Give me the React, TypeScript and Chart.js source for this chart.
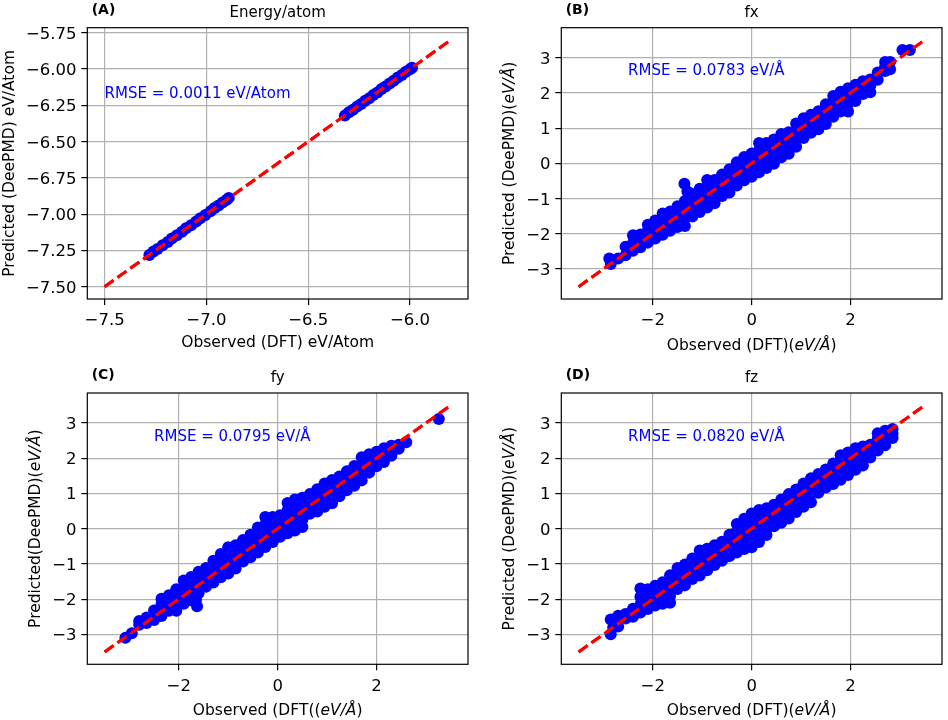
import React, { useEffect, useRef } from "react";
import { Chart, registerables } from "chart.js";

Chart.register(...registerables);

const FONT = '"DejaVu Sans", "Noto Sans", sans-serif';

// ---------- Panel A: energy per atom ----------
const energyXTicks = [-7.5, -7.0, -6.5, -6.0];
const energyXLabels = ["\u22127.5", "\u22127.0", "\u22126.5", "\u22126.0"];
const energyYTicks = [-7.5, -7.25, -7.0, -6.75, -6.5, -6.25, -6.0, -5.75];
const energyYLabels = ["\u22127.50", "\u22127.25", "\u22127.00", "\u22126.75", "\u22126.50", "\u22126.25", "\u22126.00", "\u22125.75"];
const energyRange = [-7.585, -5.715];
const energyDiagonal = [-7.5, -5.8];
const energyPoints: [number, number][] = [
  [-7.28, -7.282], [-7.26, -7.258], [-7.24, -7.241], [-7.215, -7.214], [-7.19, -7.192],
  [-7.17, -7.168], [-7.145, -7.146], [-7.12, -7.121], [-7.1, -7.098], [-7.075, -7.077],
  [-7.05, -7.051], [-7.03, -7.028], [-7.005, -7.006], [-6.98, -6.981], [-6.96, -6.958],
  [-6.94, -6.941], [-6.92, -6.919], [-6.9, -6.901], [-6.89, -6.888],
  [-6.32, -6.321], [-6.3, -6.298], [-6.28, -6.281], [-6.26, -6.259], [-6.24, -6.241],
  [-6.22, -6.218], [-6.2, -6.201], [-6.18, -6.179], [-6.16, -6.161], [-6.14, -6.138],
  [-6.12, -6.121], [-6.1, -6.099], [-6.08, -6.081], [-6.06, -6.058], [-6.04, -6.041],
  [-6.02, -6.019], [-6.0, -6.001], [-5.99, -5.991],
];
const energyRmse = "RMSE = 0.0011 eV/Atom";
const energyRmseAt = [-7.5, -6.2];

// ---------- Force panels ----------
const forceXTicks = [-2, 0, 2];
const forceXLabels = ["\u22122", "0", "2"];
const forceYTicks = [-3, -2, -1, 0, 1, 2, 3];
const forceYLabels = ["\u22123", "\u22122", "\u22121", "0", "1", "2", "3"];
const forceRange = [-3.85, 3.85];
const forceDiagonal = [-3.5, 3.5];
const forceRmseAt = [-2.5, 2.5];

const fxPoints: [number, number][] = [
  [-2.88, -2.7], [-2.85, -2.86], [-2.7, -2.7],
  [-2.55, -2.37], [-2.55, -2.61],
  [-2.4, -2.04], [-2.4, -2.26], [-2.4, -2.48],
  [-2.25, -2.02], [-2.25, -2.2], [-2.25, -2.38],
  [-2.1, -1.74], [-2.1, -1.91], [-2.1, -2.08], [-2.1, -2.25],
  [-1.95, -1.62], [-1.95, -1.79], [-1.95, -1.96], [-1.95, -2.13],
  [-1.8, -1.42], [-1.8, -1.62], [-1.8, -1.83], [-1.8, -2.03],
  [-1.65, -1.37], [-1.65, -1.55], [-1.65, -1.73], [-1.65, -1.91],
  [-1.5, -1.22], [-1.5, -1.42], [-1.5, -1.61], [-1.5, -1.81],
  [-1.35, -1.07], [-1.35, -1.31], [-1.35, -1.54], [-1.35, -1.78],
  [-1.36, -0.58], [-1.3, -0.8],
  [-1.2, -0.87], [-1.2, -1.08], [-1.2, -1.3], [-1.2, -1.51],
  [-1.05, -0.72], [-1.05, -0.94], [-1.05, -1.16], [-1.05, -1.38],
  [-0.9, -0.47], [-0.9, -0.67], [-0.9, -0.86], [-0.9, -1.06], [-0.9, -1.25],
  [-0.75, -0.47], [-0.75, -0.69], [-0.75, -0.91], [-0.75, -1.13],
  [-0.6, -0.32], [-0.6, -0.52], [-0.6, -0.73], [-0.6, -0.93],
  [-0.45, -0.17], [-0.45, -0.39], [-0.45, -0.61], [-0.45, -0.83],
  [-0.3, 0.03], [-0.3, -0.19], [-0.3, -0.41], [-0.3, -0.63],
  [-0.15, 0.18], [-0.15, -0.04], [-0.15, -0.26], [-0.15, -0.48],
  [0.0, 0.28], [0.0, 0.06], [0.0, -0.16], [0.0, -0.38],
  [0.15, 0.58], [0.15, 0.37], [0.15, 0.17], [0.15, -0.04], [0.15, -0.25],
  [0.3, 0.58], [0.3, 0.34], [0.3, 0.11], [0.3, -0.13],
  [0.45, 0.68], [0.45, 0.45], [0.45, 0.22], [0.45, -0.01],
  [0.6, 0.83], [0.6, 0.61], [0.6, 0.39], [0.6, 0.17],
  [0.75, 0.88], [0.75, 0.68], [0.75, 0.47], [0.75, 0.27],
  [0.9, 1.13], [0.9, 0.91], [0.9, 0.69], [0.9, 0.47],
  [1.05, 1.28], [1.05, 1.09], [1.05, 0.91], [1.05, 0.72],
  [1.2, 1.38], [1.2, 1.21], [1.2, 1.04], [1.2, 0.87],
  [1.35, 1.48], [1.35, 1.31], [1.35, 1.14], [1.35, 0.97],
  [1.5, 1.68], [1.5, 1.49], [1.5, 1.31], [1.5, 1.12],
  [1.65, 1.91], [1.65, 1.71], [1.65, 1.52], [1.65, 1.32],
  [1.8, 2.03], [1.8, 1.84], [1.8, 1.66], [1.8, 1.47],
  [1.95, 2.13], [1.95, 1.91], [1.95, 1.69], [1.95, 1.47],
  [2.1, 2.23], [2.1, 2.0], [2.1, 1.77],
  [2.25, 2.33], [2.25, 2.15], [2.25, 1.97],
  [2.4, 2.38], [2.4, 2.2], [2.4, 2.02],
  [2.55, 2.58], [2.55, 2.37],
  [2.7, 2.88], [2.7, 2.75], [2.7, 2.62],
  [2.8, 2.88], [2.8, 2.67],
  [3.05, 3.22], [3.2, 3.22],
];
const fxRmse = "RMSE = 0.0783 eV/\u00C5";

const fyPoints: [number, number][] = [
  [-3.08, -3.1], [-2.95, -2.97],
  [-2.8, -2.62], [-2.8, -2.73],
  [-2.65, -2.52], [-2.65, -2.68],
  [-2.5, -2.32], [-2.5, -2.45], [-2.5, -2.59],
  [-2.35, -1.99], [-2.35, -2.15], [-2.35, -2.32], [-2.35, -2.48],
  [-2.2, -1.89], [-2.2, -2.11], [-2.2, -2.33],
  [-2.05, -1.72], [-2.05, -1.92], [-2.05, -2.13], [-2.05, -2.33],
  [-1.9, -1.47], [-1.9, -1.69], [-1.9, -1.91], [-1.9, -2.13],
  [-1.75, -1.37], [-1.75, -1.59], [-1.75, -1.81], [-1.75, -2.03],
  [-1.6, -1.22], [-1.6, -1.42], [-1.6, -1.63], [-1.6, -1.83], [-1.65, -2.02], [-1.63, -2.2],
  [-1.45, -1.12], [-1.45, -1.3], [-1.45, -1.47], [-1.45, -1.65],
  [-1.3, -0.91], [-1.3, -1.12], [-1.3, -1.32], [-1.3, -1.53],
  [-1.15, -0.72], [-1.15, -0.94], [-1.15, -1.16], [-1.15, -1.38],
  [-1.0, -0.53], [-1.0, -0.72], [-1.0, -0.9], [-1.0, -1.09], [-1.0, -1.27],
  [-0.85, -0.47], [-0.85, -0.69], [-0.85, -0.91], [-0.85, -1.13],
  [-0.7, -0.32], [-0.7, -0.52], [-0.7, -0.73], [-0.7, -0.93],
  [-0.55, -0.17], [-0.55, -0.38], [-0.55, -0.6], [-0.55, -0.81],
  [-0.4, 0.03], [-0.4, -0.21], [-0.4, -0.44], [-0.4, -0.68],
  [-0.25, 0.33], [-0.25, 0.12], [-0.25, -0.1], [-0.25, -0.31], [-0.25, -0.52],
  [-0.1, 0.33], [-0.1, 0.09], [-0.1, -0.14], [-0.1, -0.38],
  [0.05, 0.38], [0.05, 0.18], [0.05, -0.03], [0.05, -0.23],
  [0.2, 0.73], [0.2, 0.52], [0.2, 0.3], [0.2, 0.09], [0.2, -0.13],
  [0.35, 0.83], [0.35, 0.61], [0.35, 0.39], [0.35, 0.17], [0.35, -0.05],
  [0.5, 0.88], [0.5, 0.67], [0.5, 0.46], [0.5, 0.26], [0.5, 0.05],
  [0.65, 0.98], [0.65, 0.79], [0.65, 0.61], [0.65, 0.42],
  [0.8, 1.12], [0.8, 0.91], [0.8, 0.7], [0.8, 0.49],
  [0.95, 1.28], [0.95, 1.06], [0.95, 0.84], [0.95, 0.62],
  [1.1, 1.38], [1.1, 1.16], [1.1, 0.94], [1.1, 0.72],
  [1.25, 1.48], [1.25, 1.29], [1.25, 1.11], [1.25, 0.92],
  [1.4, 1.63], [1.4, 1.45], [1.4, 1.27], [1.4, 1.09],
  [1.55, 1.78], [1.55, 1.59], [1.55, 1.41], [1.55, 1.22],
  [1.7, 2.03], [1.7, 1.81], [1.7, 1.59], [1.7, 1.37],
  [1.85, 2.11], [1.85, 1.94], [1.85, 1.76], [1.85, 1.59],
  [2.0, 2.18], [2.0, 1.98], [2.0, 1.77],
  [2.15, 2.28], [2.15, 2.09], [2.15, 1.89],
  [2.3, 2.35], [2.3, 2.21], [2.3, 2.07],
  [2.45, 2.38], [2.45, 2.27],
  [2.6, 2.45],
  [3.26, 3.11],
];
const fyRmse = "RMSE = 0.0795 eV/\u00C5";

const fzPoints: [number, number][] = [
  [-2.85, -2.58], [-2.85, -3.0], [-2.8, -2.8],
  [-2.7, -2.47], [-2.7, -2.62], [-2.7, -2.78],
  [-2.55, -2.42], [-2.55, -2.55],
  [-2.4, -2.27], [-2.4, -2.5],
  [-2.25, -1.7], [-2.25, -1.93], [-2.25, -2.15], [-2.25, -2.38],
  [-2.1, -1.72], [-2.1, -1.91], [-2.1, -2.09], [-2.1, -2.28],
  [-1.95, -1.62], [-1.95, -1.81], [-1.95, -1.99], [-1.95, -2.18],
  [-1.8, -1.52], [-1.8, -1.72], [-1.8, -1.93], [-1.8, -2.13],
  [-1.65, -1.32], [-1.65, -1.52], [-1.65, -1.71], [-1.65, -1.91], [-1.65, -2.1],
  [-1.5, -1.12], [-1.5, -1.32], [-1.5, -1.51], [-1.5, -1.71],
  [-1.35, -1.02], [-1.35, -1.22], [-1.35, -1.41], [-1.35, -1.61],
  [-1.2, -0.85], [-1.2, -1.04], [-1.2, -1.24], [-1.2, -1.43],
  [-1.05, -0.62], [-1.05, -0.86], [-1.05, -1.09], [-1.05, -1.33],
  [-0.9, -0.57], [-0.9, -0.77], [-0.9, -0.98], [-0.9, -1.18],
  [-0.75, -0.47], [-0.75, -0.66], [-0.75, -0.84], [-0.75, -1.03],
  [-0.6, -0.37], [-0.6, -0.55], [-0.6, -0.73], [-0.6, -0.91],
  [-0.45, -0.17], [-0.45, -0.37], [-0.45, -0.58], [-0.45, -0.78],
  [-0.3, 0.13], [-0.3, -0.07], [-0.3, -0.28], [-0.3, -0.48], [-0.3, -0.68],
  [-0.15, 0.28], [-0.15, 0.07], [-0.15, -0.15], [-0.15, -0.37], [-0.15, -0.58],
  [0.0, 0.43], [0.0, 0.19], [0.0, -0.05], [0.0, -0.29], [0.0, -0.53],
  [0.15, 0.53], [0.15, 0.3], [0.15, 0.08], [0.15, -0.15], [0.15, -0.38],
  [0.3, 0.58], [0.3, 0.39], [0.3, 0.2], [0.3, 0.01], [0.3, -0.18],
  [0.45, 0.68], [0.45, 0.48], [0.45, 0.27], [0.45, 0.07],
  [0.6, 0.83], [0.6, 0.61], [0.6, 0.39], [0.6, 0.17],
  [0.75, 0.98], [0.75, 0.75], [0.75, 0.52], [0.75, 0.29],
  [0.9, 1.11], [0.9, 0.9], [0.9, 0.68], [0.9, 0.47],
  [1.05, 1.28], [1.05, 1.06], [1.05, 0.84], [1.05, 0.62],
  [1.2, 1.43], [1.2, 1.2], [1.2, 0.98], [1.2, 0.75],
  [1.35, 1.55], [1.35, 1.37], [1.35, 1.2], [1.35, 1.02],
  [1.5, 1.68], [1.5, 1.51], [1.5, 1.34], [1.5, 1.17],
  [1.65, 1.85], [1.65, 1.66], [1.65, 1.46], [1.65, 1.27],
  [1.8, 2.08], [1.8, 1.85], [1.8, 1.62], [1.8, 1.39],
  [1.95, 2.16], [1.95, 1.95], [1.95, 1.73], [1.95, 1.52],
  [2.1, 2.28], [2.1, 2.08], [2.1, 1.87], [2.1, 1.67],
  [2.25, 2.33], [2.25, 2.15], [2.25, 1.97], [2.25, 1.79],
  [2.4, 2.38], [2.4, 2.2], [2.4, 2.02],
  [2.55, 2.71], [2.55, 2.55], [2.55, 2.38], [2.55, 2.22],
  [2.7, 2.78], [2.7, 2.58], [2.7, 2.37],
  [2.85, 2.83], [2.85, 2.7], [2.85, 2.57],
];
const fzRmse = "RMSE = 0.0820 eV/\u00C5";

type Seg = [string, boolean];

interface Panel {
  letter: string;
  title: string;
  points: [number, number][];
  diagonal: number[];
  range: number[];
  xTicks: number[];
  xLabels: string[];
  yTicks: number[];
  yLabels: string[];
  rmse: string;
  rmseAt: number[];
  xTitle: Seg[];
  yTitle: Seg[];
  areaTop: number;
  areaBottom: number;
  xTitleGap: number;
  yTitleX: number;
}

const ITAL = "eV/\u00C5";

const panels: Panel[] = [
  {
    letter: "(A)", title: "Energy/atom", points: energyPoints, diagonal: energyDiagonal, range: energyRange,
    xTicks: energyXTicks, xLabels: energyXLabels, yTicks: energyYTicks, yLabels: energyYLabels,
    rmse: energyRmse, rmseAt: energyRmseAt,
    xTitle: [["Observed (DFT) eV/Atom", false]],
    yTitle: [["Predicted (DeePMD) eV/Atom", false]],
    areaTop: 27.7, areaBottom: 299, xTitleGap: 48, yTitleX: 14,
  },
  {
    letter: "(B)", title: "fx", points: fxPoints, diagonal: forceDiagonal, range: forceRange,
    xTicks: forceXTicks, xLabels: forceXLabels, yTicks: forceYTicks, yLabels: forceYLabels,
    rmse: fxRmse, rmseAt: forceRmseAt,
    xTitle: [["Observed (DFT)(", false], [ITAL, true], [")", false]],
    yTitle: [["Predicted (DeePMD)(", false], [ITAL, true], [")", false]],
    areaTop: 27.7, areaBottom: 299, xTitleGap: 51, yTitleX: 40,
  },
  {
    letter: "(C)", title: "fy", points: fyPoints, diagonal: forceDiagonal, range: forceRange,
    xTicks: forceXTicks, xLabels: forceXLabels, yTicks: forceYTicks, yLabels: forceYLabels,
    rmse: fyRmse, rmseAt: forceRmseAt,
    xTitle: [["Observed (DFT((", false], [ITAL, true], [")", false]],
    yTitle: [["Predicted(DeePMD)(", false], [ITAL, true], [")", false]],
    areaTop: 33, areaBottom: 304.3, xTitleGap: 51, yTitleX: 40,
  },
  {
    letter: "(D)", title: "fz", points: fzPoints, diagonal: forceDiagonal, range: forceRange,
    xTicks: forceXTicks, xLabels: forceXLabels, yTicks: forceYTicks, yLabels: forceYLabels,
    rmse: fzRmse, rmseAt: forceRmseAt,
    xTitle: [["Observed (DFT)(", false], [ITAL, true], [")", false]],
    yTitle: [["Predicted (DeePMD)(", false], [ITAL, true], [")", false]],
    areaTop: 33, areaBottom: 304.3, xTitleGap: 51, yTitleX: 40,
  },
];

const W = 474;
const H = 360;
const AREA_LEFT = 87.3;
const AREA_RIGHT = 471;
const TICK_LEN = 6;
const TICK_FONT = `16.5px ${FONT}`;

function drawSegs(ctx: CanvasRenderingContext2D, segs: Seg[], x: number, y: number, size: number, rotate: boolean) {
  const fonts = segs.map(([, it]) => `${it ? "italic " : ""}${size}px ${FONT}`);
  const widths = segs.map(([t], i) => {
    ctx.font = fonts[i];
    return ctx.measureText(t).width;
  });
  const total = widths.reduce((a, b) => a + b, 0);
  ctx.save();
  ctx.translate(x, y);
  if (rotate) ctx.rotate(-Math.PI / 2);
  ctx.fillStyle = "#000";
  ctx.textAlign = "left";
  ctx.textBaseline = "alphabetic";
  let cx = -total / 2;
  segs.forEach(([t], i) => {
    ctx.font = fonts[i];
    ctx.fillText(t, cx, 0);
    cx += widths[i];
  });
  ctx.restore();
}

function PanelChart({ panel, left, top }: { panel: Panel; left: number; top: number }) {
  const ref = useRef<HTMLCanvasElement | null>(null);

  useEffect(() => {
    if (!ref.current) return;
    const p = panel;
    const overlay = {
      id: "overlay",
      afterDraw(chart: any) {
        const { ctx, chartArea: ca, scales } = chart;
        const xs = scales.x;
        const ys = scales.y;
        // the grid sits above the markers; the diagonal goes back on top of the grid
        ctx.save();
        ctx.beginPath();
        ctx.rect(ca.left, ca.top, ca.right - ca.left, ca.bottom - ca.top);
        ctx.clip();
        chart.getDatasetMeta(0).controller.draw();
        ctx.restore();
        // frame
        ctx.save();
        ctx.strokeStyle = "#000";
        ctx.lineWidth = 1.2;
        ctx.strokeRect(ca.left, ca.top, ca.right - ca.left, ca.bottom - ca.top);
        ctx.restore();
        const cx = (ca.left + ca.right) / 2;
        const cy = (ca.top + ca.bottom) / 2;
        ctx.save();
        ctx.fillStyle = "#000";
        // tick labels, placed through the chart's scales
        ctx.font = TICK_FONT;
        ctx.textBaseline = "alphabetic";
        ctx.textAlign = "center";
        xs.ticks.forEach((t: any, i: number) => {
          ctx.fillText(p.xLabels[i], xs.getPixelForValue(t.value), ca.bottom + 26.3);
        });
        ctx.textAlign = "right";
        ys.ticks.forEach((t: any, i: number) => {
          ctx.fillText(p.yLabels[i], ca.left - TICK_LEN - 4.8, ys.getPixelForValue(t.value) + 6);
        });
        // title and panel letter
        ctx.font = `15px ${FONT}`;
        ctx.textAlign = "center";
        ctx.fillText(p.title, cx, ca.top - 11);
        ctx.font = `bold 14px ${FONT}`;
        ctx.textAlign = "left";
        ctx.fillText(p.letter, ca.left + 4.4, ca.top - 13.7);
        // RMSE annotation at data coordinates
        ctx.fillStyle = "#0000ff";
        ctx.font = `15px ${FONT}`;
        ctx.fillText(p.rmse, xs.getPixelForValue(p.rmseAt[0]), ys.getPixelForValue(p.rmseAt[1]));
        ctx.restore();
        drawSegs(ctx, p.xTitle, cx, ca.bottom + p.xTitleGap, 15.5, false);
        drawSegs(ctx, p.yTitle, p.yTitleX, cy, 15.5, true);
      },
    };

    const gridOpts = { color: "#b0b0b0", lineWidth: 1.2, drawTicks: true, tickLength: TICK_LEN, tickColor: "#000", tickWidth: 1.2 };
    const chart = new Chart(ref.current, {
      type: "scatter",
      data: {
        datasets: [
          {
            label: "y = x",
            data: p.diagonal.map((v) => ({ x: v, y: v })),
            showLine: true,
            borderColor: "#ff0000",
            borderWidth: 3,
            borderDash: [11, 4.8],
            pointRadius: 0,
            pointHoverRadius: 0,
            fill: false,
            order: 0,
          },
          {
            label: p.title,
            data: p.points.map(([x, y]) => ({ x, y })),
            pointRadius: 6,
            pointHoverRadius: 6,
            pointBackgroundColor: "#0000ff",
            pointBorderWidth: 0,
            backgroundColor: "#0000ff",
            borderColor: "#0000ff",
            order: 1,
          },
        ],
      },
      options: {
        animation: false,
        responsive: false,
        maintainAspectRatio: false,
        events: [],
        layout: { padding: { left: 0, top: p.areaTop, right: W - AREA_RIGHT, bottom: 0 } },
        plugins: { legend: { display: false }, tooltip: { enabled: false }, title: { display: false } },
        scales: {
          x: {
            type: "linear",
            min: p.range[0],
            max: p.range[1],
            z: 1,
            afterBuildTicks: (axis: any) => {
              axis.ticks = p.xTicks.map((v) => ({ value: v }));
            },
            afterFit: (axis: any) => {
              axis.height = H - p.areaBottom;
            },
            ticks: { display: false, autoSkip: false, maxRotation: 0 },
            grid: gridOpts,
            border: { display: false },
          },
          y: {
            type: "linear",
            min: p.range[0],
            max: p.range[1],
            z: 1,
            afterBuildTicks: (axis: any) => {
              axis.ticks = p.yTicks.map((v) => ({ value: v }));
            },
            afterFit: (axis: any) => {
              axis.width = AREA_LEFT;
            },
            ticks: { display: false, autoSkip: false },
            grid: gridOpts,
            border: { display: false },
          },
        },
      } as any,
      plugins: [overlay],
    });
    return () => chart.destroy();
  }, [panel]);

  return (
    <canvas
      ref={ref}
      width={W}
      height={H}
      style={{ position: "absolute", left, top, width: W, height: H, display: "block" }}
    />
  );
}

export default function App() {
  return (
    <div style={{ position: "absolute", left: 0, top: 0, width: 948, height: 720, background: "#ffffff", overflow: "hidden" }}>
      {panels.map((p, i) => (
        <PanelChart key={p.letter} panel={p} left={(i % 2) * W} top={Math.floor(i / 2) * H} />
      ))}
    </div>
  );
}
